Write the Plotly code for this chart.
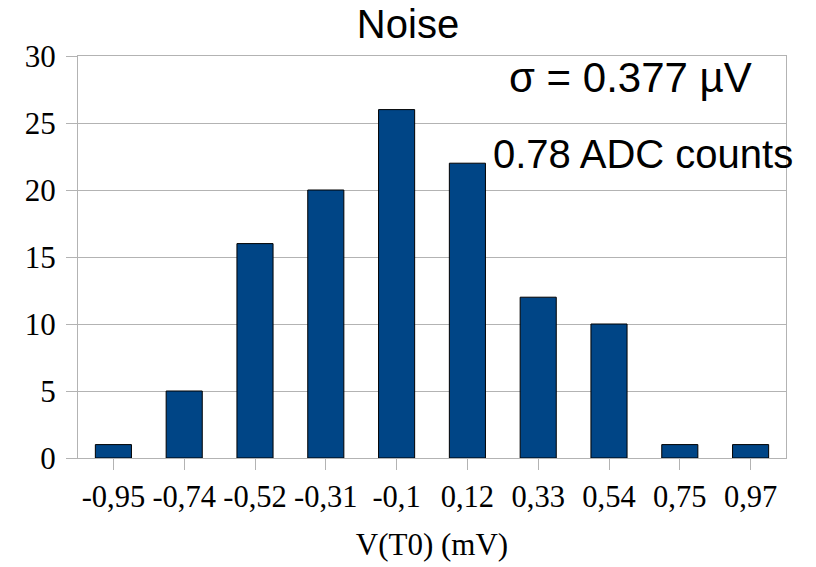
import plotly.graph_objects as go

categories = ["-0,95", "-0,74", "-0,52", "-0,31", "-0,1", "0,12", "0,33", "0,54", "0,75", "0,97"]
counts = [1, 5, 16, 20, 26, 22, 12, 10, 1, 1]
y_ticks = [0, 5, 10, 15, 20, 25, 30]

title_text = "Noise"
x_title = "V(T0) (mV)"
note_sigma = "σ = 0.377 µV"
note_adc = "0.78 ADC counts"

grid = "#b3b3b3"
serif = "Liberation Serif"
sans = "Liberation Sans"

fig = go.Figure(go.Bar(
    x=categories, y=counts,
    marker=dict(color="#004586", line=dict(color="#000000", width=1)),
    width=0.51,
))

fig.update_layout(
    width=816, height=567,
    margin=dict(l=78, r=30, t=56, b=109),
    paper_bgcolor="white", plot_bgcolor="white",
    showlegend=False,
    title=dict(text=title_text, x=0.5, xref="container", xanchor="center",
               y=(567 - 24) / 567, yref="container", yanchor="middle",
               font=dict(family=sans, size=40, color="black")),
    xaxis=dict(
        type="category",
        showline=True, linecolor=grid, linewidth=1, mirror=True,
        ticks="outside", ticklen=11, tickcolor=grid, tickwidth=1,
        tickfont=dict(family=serif, size=30.5, color="black"),
        showgrid=False,
        title=dict(text=x_title, font=dict(family=serif, size=31, color="black"), standoff=20),
    ),
    yaxis=dict(
        range=[0, 30], tickvals=y_ticks,
        showline=True, linecolor=grid, linewidth=1, mirror=True,
        ticks="outside", ticklen=11, tickcolor=grid, tickwidth=1,
        ticklabelstandoff=4,
        tickfont=dict(family=serif, size=31, color="black"),
        showgrid=True, gridcolor=grid, gridwidth=1,
        zeroline=False,
    ),
    annotations=[
        dict(text=note_sigma, xref="paper", yref="paper", x=(754 - 78) / 708, y=(458 - 78) / 402,
             xanchor="right", yanchor="middle", showarrow=False,
             font=dict(family=sans, size=42, color="black")),
        dict(text=note_adc, xref="paper", yref="paper", x=(795 - 78) / 708, y=(458 - 154) / 402,
             xanchor="right", yanchor="middle", showarrow=False,
             font=dict(family=sans, size=40, color="black")),
    ],
)

fig.write_html("out.html")
